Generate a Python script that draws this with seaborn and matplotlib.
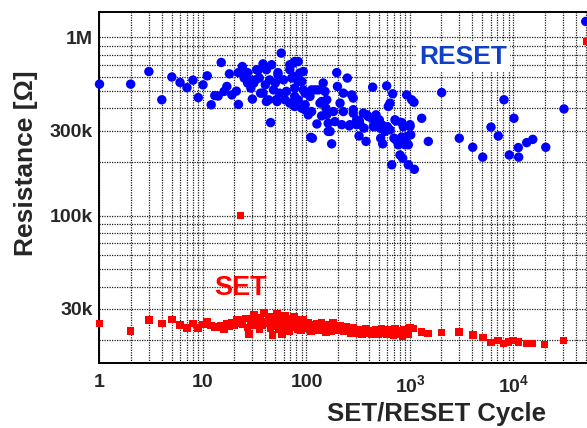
import matplotlib
matplotlib.use("Agg")
import matplotlib.pyplot as plt
import seaborn as sns
import pandas as pd
from matplotlib.ticker import FixedLocator, FixedFormatter, NullFormatter

# ---------------- data ----------------
reset_cycle = [1, 2, 3, 4, 5, 6, 7, 8, 9, 10,
               11, 12, 13, 14, 15, 16, 17, 18, 19, 21,
               22, 22, 24, 25, 26, 27, 27, 28, 29, 30,
               31, 32, 33, 34, 35, 36, 38, 38, 40, 41,
               41, 43, 44, 45, 46, 48, 50, 51, 52, 53,
               53, 55, 57, 60, 62, 64, 69, 69, 69, 72,
               75, 75, 77, 77, 77, 77, 83, 83, 83, 86,
               90, 90, 93, 93, 97, 97, 97, 104, 108, 110,
               112, 112, 114, 121, 126, 130, 135, 140, 140, 145,
               151, 154, 157, 157, 162, 162, 169, 175, 182, 188,
               196, 199, 211, 219, 227, 227, 248, 259, 263, 273,
               283, 283, 283, 305, 305, 322, 324, 329, 354, 359,
               376, 382, 395, 427, 436, 442, 459, 469, 505, 513,
               521, 533, 545, 573, 595, 604, 617, 641, 641, 666,
               681, 700, 716, 733, 733, 771, 800, 800, 832, 832,
               850, 861, 895, 929, 929, 963, 963, 1000, 1000, 1016,
               1038, 1093, 1101, 1297, 1503, 2024, 2993, 4035, 5040, 6062,
               7130, 8090, 9100, 10100, 11130, 11220, 13420, 15350, 20500, 30760,
               49900]
reset_kohm = [547, 547, 644, 447, 600, 559, 523, 576, 460, 542,
              609, 419, 472, 469, 724, 498, 531, 625, 476, 500,
              421, 635, 687, 592, 604, 635, 555, 578, 520, 451,
              555, 578, 659, 653, 592, 487, 711, 487, 542, 659,
              437, 447, 578, 333, 703, 508, 555, 447, 437, 635,
              617, 487, 817, 578, 447, 498, 659, 428, 703, 592,
              718, 604, 733, 520, 467, 410, 733, 566, 447, 631,
              566, 401, 644, 508, 487, 419, 393, 368, 467, 275,
              508, 384, 272, 508, 327, 508, 428, 363, 437, 555,
              498, 401, 447, 368, 297, 330, 297, 253, 384, 337,
              635, 531, 428, 324, 487, 384, 592, 319, 324, 476,
              457, 393, 376, 345, 324, 280, 340, 324, 376, 310,
              261, 368, 360, 352, 526, 316, 319, 368, 345, 310,
              272, 324, 253, 297, 535, 316, 410, 428, 303, 193,
              483, 272, 345, 266, 340, 250, 219, 266, 333, 276,
              210, 316, 250, 476, 278, 193, 250, 316, 324, 284,
              447, 433, 182, 352, 261, 491, 272, 242, 213, 314,
              280, 447, 219, 352, 241, 213, 257, 268, 242, 397,
              1230]

set_cycle = [1, 2, 3, 4, 5, 6, 7, 8, 9, 10,
             11, 12, 13, 14, 15, 16, 17, 18, 19, 20,
             21, 22, 23, 24, 26, 27, 28, 29, 31, 32,
             34, 35, 36, 37, 39, 40, 42, 44, 45, 47,
             48, 50, 52, 53, 55, 57, 58, 60, 62, 63,
             65, 67, 68, 70, 72, 74, 76, 78, 79, 82,
             85, 88, 90, 92, 95, 98, 100, 105, 110, 115,
             120, 125, 130, 135, 140, 150, 155, 160, 170, 175,
             180, 190, 200, 210, 220, 230, 240, 250, 260, 270,
             280, 290, 300, 315, 330, 345, 360, 375, 390, 410,
             430, 450, 470, 490, 510, 530, 550, 580, 600, 630,
             660, 690, 720, 750, 780, 810, 850, 880, 920, 960,
             1000, 1076, 1297, 1483, 2024, 2993, 4035, 5050, 6060, 7090,
             7990, 8960, 10000, 11200, 13400, 15300, 20000, 30300, 23, 51000]
set_kohm = [24.8, 22.5, 26.0, 24.8, 26.2, 24.3, 23.5, 24.8, 23.5, 24.5,
            25.5, 24.2, 23.8, 23.7, 24.0, 23.0, 24.6, 24.0, 25.2, 24.3,
            25.9, 24.8, 25.9, 24.5, 26.5, 23.6, 21.6, 25.0, 27.7, 24.2,
            25.9, 23.2, 26.8, 24.4, 28.5, 25.5, 24.9, 27.0, 23.4, 21.4,
            26.0, 24.0, 28.0, 25.2, 23.0, 26.5, 21.6, 24.8, 27.3, 25.4,
            23.3, 25.8, 22.4, 26.5, 24.5, 23.6, 27.0, 24.9, 25.9, 23.2,
            25.3, 22.8, 24.5, 26.0, 23.5, 24.8, 23.6, 25.0, 22.6, 24.3,
            23.2, 24.8, 22.8, 23.9, 24.9, 23.0, 22.2, 24.3, 23.4, 22.4,
            25.1, 23.6, 22.9, 24.1, 23.1, 22.5, 23.8, 22.6, 23.3, 22.0,
            23.6, 22.5, 23.0, 21.9, 22.8, 21.7, 22.4, 23.1, 21.8, 22.6,
            21.6, 22.3, 23.0, 21.7, 22.2, 23.2, 21.9, 22.6, 21.5, 22.9,
            22.1, 21.4, 23.3, 22.0, 21.5, 22.7, 21.2, 23.0, 22.1, 21.5,
            23.6, 23.3, 22.3, 21.8, 22.1, 22.3, 21.4, 20.7, 19.4, 19.9,
            19.2, 19.6, 19.9, 19.6, 19.2, 19.2, 18.9, 19.9, 100.0, 950.0]

x_ticks = [1, 10, 100, 1000, 10000]
x_ticklabels = ["1", "10", "100", r"$\mathbf{10^3}$", r"$\mathbf{10^4}$"]
y_ticks = [3e4, 1e5, 3e5, 1e6]
y_ticklabels = ["30k", "100k", "300k", "1M"]

assert len(reset_cycle) == len(reset_kohm)
assert len(set_cycle) == len(set_kohm)

reset_df = pd.DataFrame({"cycle": reset_cycle, "R": [v * 1e3 for v in reset_kohm]})
set_df = pd.DataFrame({"cycle": set_cycle, "R": [v * 1e3 for v in set_kohm]})

# ---------------- style ----------------
sns.set_style("white")
plt.rcParams["font.family"] = ["Liberation Sans", "DejaVu Sans"]
plt.rcParams["font.weight"] = "bold"
plt.rcParams["mathtext.fontset"] = "custom"
plt.rcParams["mathtext.bf"] = "Liberation Sans:bold"
plt.rcParams["mathtext.rm"] = "Liberation Sans:bold"

fig = plt.figure(figsize=(5.87, 4.28), dpi=100)
ax = fig.add_axes([0.1695, 0.1519, 0.8816, 0.8201])
ax.set_xscale("log")
ax.set_yscale("log")

sns.scatterplot(data=reset_df, x="cycle", y="R", ax=ax, color="#0000ff",
                marker="o", s=46, edgecolor="none", clip_on=False, zorder=3)
sns.scatterplot(data=set_df, x="cycle", y="R", ax=ax, color="#ff0000",
                marker="s", s=30, edgecolor="none", clip_on=False, zorder=3)

ax.set_xlim(1, 1e5)
ax.set_ylim(1.49e4, 1.39e6)

# ticks
ax.xaxis.set_major_locator(FixedLocator(x_ticks + [1e5]))
ax.xaxis.set_major_formatter(FixedFormatter(x_ticklabels + [""]))
x_minor = [k * 10 ** e for e in range(0, 5) for k in range(2, 10)]
ax.xaxis.set_minor_locator(FixedLocator(x_minor))
ax.xaxis.set_minor_formatter(NullFormatter())

ax.yaxis.set_major_locator(FixedLocator(y_ticks))
ax.yaxis.set_major_formatter(FixedFormatter(y_ticklabels))
y_minor = [k * 10 ** e for e in range(4, 7) for k in range(1, 10)
           if k * 10 ** e not in y_ticks]
ax.yaxis.set_minor_locator(FixedLocator(y_minor))
ax.yaxis.set_minor_formatter(NullFormatter())

ax.tick_params(which="both", direction="in", top=False, right=False)
ax.tick_params(which="major", length=6, width=1.0, labelsize=14)
ax.tick_params(axis="x", which="major", pad=8)
ax.tick_params(axis="y", which="major", pad=5)
ax.tick_params(which="minor", length=4, width=0.8)
for lab in ax.get_xticklabels() + ax.get_yticklabels():
    lab.set_fontweight("bold")

ax.grid(True, which="both", color="#222222", linestyle=(0, (1, 1)), linewidth=0.9)
ax.set_axisbelow(True)

for side in ["left", "bottom", "top"]:
    ax.spines[side].set_color("black")
    ax.spines[side].set_linewidth(1.4)
ax.spines["right"].set_visible(False)

ax.set_xlabel("SET/RESET Cycle", fontsize=18.5, fontweight="bold")
ax.set_ylabel("Resistance [Ω]", fontsize=19, fontweight="bold")
ax.xaxis.set_label_coords(0.652, -0.112)
ax.yaxis.set_label_coords(-0.119, 0.57)

fig.text(0.789, 0.867, "RESET", fontsize=19, fontweight="bold", color="#1040c8",
         ha="center", va="center",
         bbox=dict(facecolor="white", edgecolor="none", pad=2))
fig.text(0.409, 0.327, "SET", fontsize=19.5, fontweight="bold", color="#ff0000",
         ha="center", va="center")

fig.savefig("out.png", dpi=100)
